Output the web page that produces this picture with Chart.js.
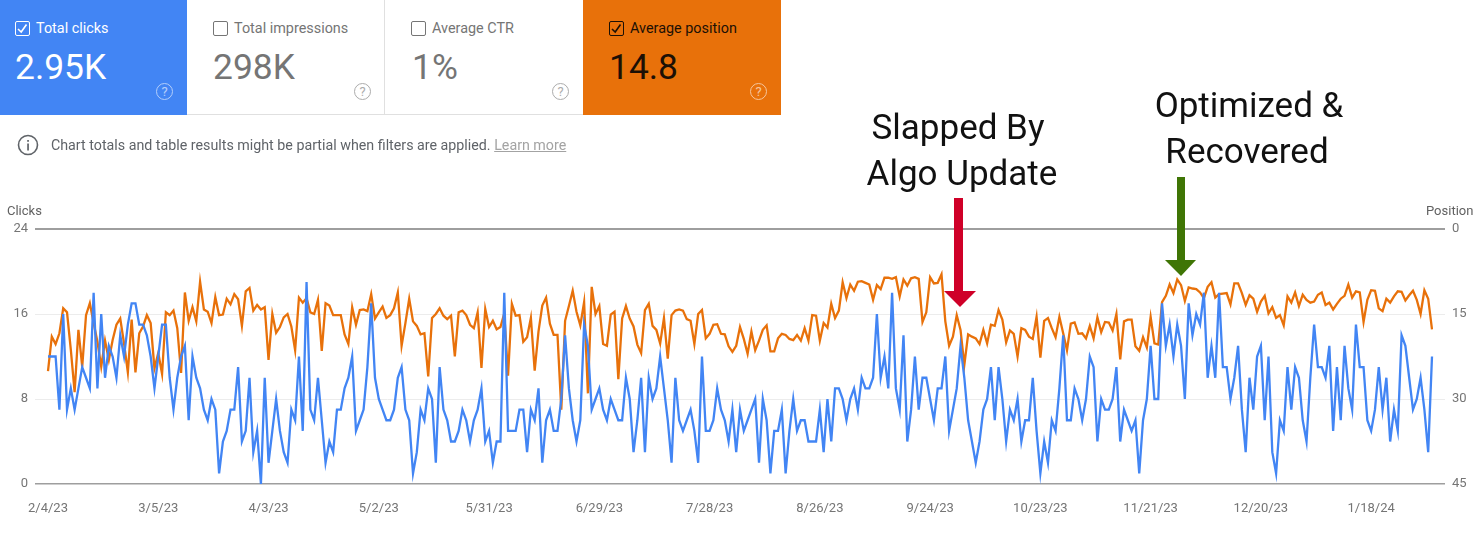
<!DOCTYPE html>
<html lang="en">
<head>
  <meta charset="UTF-8">
  <title>Search performance</title>
  <style>
    html, body { margin: 0; padding: 0; background: #fff; }
    body { width: 1483px; height: 543px; position: relative; overflow: hidden; font-family: Roboto, Arial, sans-serif; }
    #chart { position: absolute; left: 0; top: 0; }
    .card { position: absolute; top: 0; height: 114px; box-sizing: content-box; }
    .card .box { position: absolute; left: 15px; top: 21px; width: 12.5px; height: 12.5px; border: 1.5px solid; border-radius: 2px; }
    .card .box svg { position: absolute; left: 0; top: 0; }
    .card .name { position: absolute; left: 36px; top: 20px; font-size: 14.4px; line-height: 17px; white-space: nowrap; }
    .card .value { position: absolute; left: 15px; top: 45px; font-size: 35.4px; line-height: 44px; white-space: nowrap; }
    .card .help { position: absolute; left: 156px; top: 83px; width: 15px; height: 15px; border: 1.5px solid; border-radius: 50%; font-size: 13px; line-height: 15px; text-align: center; opacity: .6; }
    .white { background: #fff; color: #757575; border-bottom: 1px solid #e0e0e0; }
    .axis-name { position: absolute; top: 203px; font-size: 13px; line-height: 15px; color: #616161; }
    .info { position: absolute; left: 51px; top: 136px; font-size: 14.25px; line-height: 18px; color: #5f6368; white-space: nowrap; }
    .info a { color: #a3a3a3; text-decoration: underline; }
    .note { position: absolute; font-size: 35px; line-height: 46px; color: #111; text-align: center; white-space: nowrap; }
    #arrows { position: absolute; left: 0; top: 0; }
  </style>
</head>
<body>
  <canvas id="chart" width="1483" height="543"></canvas>

  <div class="card" style="left:0;width:187px;height:115px;background:#4285f4;color:#fff">
    <div class="box" style="border-color:#fff"><svg width="13" height="13"><path d="M2 7l3.2 3l5.3-7.5" fill="none" stroke="#fff" stroke-width="1.6"/></svg></div>
    <div class="name">Total clicks</div><div class="value">2.95K</div><div class="help">?</div>
  </div>
  <div class="card white" style="left:187px;width:197px;border-right:1px solid #e0e0e0">
    <div class="box" style="left:26px;border-color:#757575"></div>
    <div class="name" style="left:47px">Total impressions</div><div class="value" style="left:26px">298K</div><div class="help" style="left:167px">?</div>
  </div>
  <div class="card white" style="left:385px;width:198px">
    <div class="box" style="left:26px;border-color:#757575"></div>
    <div class="name" style="left:47px">Average CTR</div><div class="value" style="left:27px">1%</div><div class="help" style="left:167px">?</div>
  </div>
  <div class="card" style="left:583px;width:198px;height:115px;background:#e8710a;color:#1c1005">
    <div class="box" style="left:26px;border-color:#1c1005"><svg width="13" height="13"><path d="M2 7l3.2 3l5.3-7.5" fill="none" stroke="#1c1005" stroke-width="1.6"/></svg></div>
    <div class="name" style="left:47px">Average position</div><div class="value" style="left:26px">14.8</div><div class="help" style="left:167px;color:#fff">?</div>
  </div>

  <svg style="position:absolute;left:17px;top:134px" width="22" height="22">
    <circle cx="11" cy="11" r="9.5" fill="none" stroke="#5f6368" stroke-width="1.6"/>
    <rect x="10.2" y="9.5" width="1.7" height="7" fill="#5f6368"/><rect x="10.2" y="6" width="1.7" height="1.8" fill="#5f6368"/>
  </svg>
  <div class="info">Chart totals and table results might be partial when filters are applied. <a>Learn more</a></div>

  <div class="axis-name" style="left:7px">Clicks</div>
  <div class="axis-name" style="left:1426px">Position</div>

  <svg id="arrows" width="1483" height="543">
    <path d="M954 198h9v93h13l-16 16l-16-16h10z" fill="#cf0028"/>
    <path d="M1177 177h8v83h11l-15 16l-16-16h12z" fill="#3f7505"/>
  </svg>
  <div class="note" style="left:858px;width:200px;top:105px">Slapped By</div>
  <div class="note" style="left:862px;width:200px;top:151px">Algo Update</div>
  <div class="note" style="left:1149px;width:200px;top:83px">Optimized &amp;</div>
  <div class="note" style="left:1147px;width:200px;top:129px">Recovered</div>

  <script src="https://cdn.jsdelivr.net/npm/chart.js"></script>
  <script>
    const tickLabels = ["2/4/23", "3/5/23", "4/3/23", "5/2/23", "5/31/23", "6/29/23", "7/28/23", "8/26/23", "9/24/23", "10/23/23", "11/21/23", "12/20/23", "1/18/24"];
    const tickEvery = 29;

    // one value per day
    const clicks = [
      12,12,12,7,16,7,9,7,9,11, 10,9,18,9,16,10,13,12,10,14, 12,15,17,17,15,15,14,12,9,12,
      15,15,10,7,10,12,13,6,12,10, 9,7,6,8,7,1,4,5,7,7, 11,4,5,10,3,5,0,10,2,5,
      8,5,3,2,7,6,12,5,19,7, 6,10,6,2,4,3,7,7,9,10, 12,5,6,7,11,17,10,8,7,6,
      6,7,10,11,7,6,1,3,7,6, 9,8,2,11,7,6,4,4,5,7, 6,4,6,7,9,4,5,2,4,4,
      18,5,5,5,7,7,3,7,6,9, 2,6,7,5,5,8,14,9,6,4, 6,15,13,7,8,9,7,6,8,7,
      6,6,10,8,3,6,10,3,10,8, 9,12,9,6,2,10,6,5,6,7, 5,2,12,5,5,6,9,7,6,4,
      7,3,7,5,6,7,8,2,8,6, 1,5,5,7,1,5,8,5,6,6, 4,4,4,7,3,8,4,9,9,8,
      6,8,9,7,10,9,9,10,16,10, 12,9,18,9,7,14,4,7,12,7, 10,10,8,6,9,9,12,5,7,9,
      13,10,6,4,2,4,7,8,11,6, 11,8,4,7,6,8,4,6,6,10, 5,1,4,2,6,5,9,14,6,6,
      9,8,6,8,12,11,4,8,7,7, 8,11,4,7,6,5,6,1,6,8, 13,8,8,17,13,15,12,15,13,8,
      17,14,16,15,18,10,13,10,18,11, 11,8,10,13,7,3,10,7,12,13, 6,12,3,1,6,5,11,7,11,10,
      6,4,10,15,11,11,10,13,5,11, 6,13,9,7,15,11,11,6,5,7, 11,7,10,4,7,5,14,13,10,7,
      8,10,7,3,12
    ];
    const position = [
      25.1,19,20.3,18.4,14,14.7,21.3,28.8,17.8,24.3, 15.2,13.1,16.6,19.9,24.3,19.7,23.1,19.6,16.9,15.8,
      20.2,25.3,16,25.3,18.4,17.2,15.2,16.6,24.6,21.9, 25.6,14.7,15.2,14.4,17.5,25.4,11.2,16.2,13.8,16.3,
      9.3,14.2,14.6,16.6,12,15.2,15.1,12.3,13.3,11.5, 12.4,17.1,11,10.4,14.4,13.4,14.2,13.8,23.1,15,
      18.3,17.3,15.6,15,17.2,21.4,12.1,13,12.2,14.7, 15,12.5,21.5,13.1,13.5,15.2,15.2,15.2,18.6,20.3,
      13.8,16.9,14.3,14.2,14.5,11.5,15.8,14.7,13.7,15.7, 15.2,14,11.2,20.6,16.6,12.3,16.3,17.1,18.6,18.4,
      26,15.7,15,14,15.3,15.9,15.3,22.5,14.7,14.4, 15.2,16.9,17.5,14.7,24.5,14.1,17.3,16.2,17.7,17.3,
      14.9,25.9,13.2,15.3,15.2,19.9,19.1,15.7,25,18.1, 13.5,12.1,16.7,18.7,18.7,31.9,16.2,13.6,10.9,14.6,
      17,12.9,29,10.2,15,13.6,20.3,20.6,15.1,14.6, 26.5,15.8,13.6,15.8,17.2,20.4,21.9,14.3,13.2,17.1,
      17.8,20.2,15.7,22.9,15.2,14.4,14.2,14.4,15.9,16.2, 20.3,15,14.3,19.3,18.5,16.9,16.8,18.5,18.6,20.7,
      21.7,20.6,17.3,19.4,22,18.1,21.4,19.7,17.8,17, 21.6,21.6,19.3,18.5,18.7,19.4,19.6,18.7,19.7,17.5,
      19.7,15.2,15.3,19.7,16.6,17.4,13.2,15.7,14.4,9.4, 12.2,9.8,10.9,9.3,9.2,9.5,9.8,12.5,9.9,10.6,
      8.6,8.6,8.8,8.5,11.9,8.9,10,8.7,8.5,8.8, 16.4,14.7,8.5,9.6,9.5,8,16.3,20.6,19,15.2,
      17.8,24,18.6,19,19.3,20.3,17.8,20.2,16.9,17.1, 14.3,16,20,17.9,18.5,22.5,17.5,17.8,19,19.4,
      15.5,22.7,16.2,15.7,17.5,19.1,15.5,18.4,21.4,16.7, 16.5,18.5,18.4,19.3,17.1,19.3,15.6,18.2,16.4,16.5,
      17.9,15,23,16.3,16,16,20.7,21.5,19.1,20.9, 15.5,20.2,20.4,12.9,11.8,9.8,11.3,8.9,9.9,12.7,
      10.3,10.5,10.6,11.2,12.2,10.2,9.4,12.1,11.5,11.4, 11.3,13.3,9.6,9.6,11.3,13.4,11.7,12.3,14.6,12.8,
      11.8,14.9,13.8,15.7,15.2,17,11.9,13,11.2,13.6, 11.6,12.5,13,12.8,11.6,11.2,13.4,13,14.2,13.2,
      12.3,11.8,9.8,12.1,11,11.2,16.4,12.5,10.8,10.9, 14,14.5,12.3,13,11.9,11,11.1,12.6,11.7,10.9,
      12.5,15,10.8,12.3,17.7
    ];

    const FONT = { family: "Roboto, Arial, sans-serif", size: 13 };
    const TICK_COLOR = "#757575";

    new Chart(document.getElementById("chart"), {
      type: "line",
      data: {
        datasets: [
          { label: "Clicks", yAxisID: "y", data: clicks.map((v, i) => ({ x: i, y: v })), borderColor: "#4285f4", borderWidth: 2.3, pointRadius: 0, tension: 0, order: 0 },
          { label: "Position", yAxisID: "y2", data: position.map((v, i) => ({ x: i, y: v })), borderColor: "#e8710a", borderWidth: 2.3, pointRadius: 0, tension: 0, order: 1 }
        ]
      },
      options: {
        responsive: false,
        animation: false,
        devicePixelRatio: 1,
        layout: { padding: { top: 229, left: 0, right: 0, bottom: 0 } },
        plugins: { legend: { display: false }, tooltip: { enabled: false } },
        scales: {
          x: {
            type: "linear",
            min: -3.42,
            max: 367.42,
            grid: { display: false },
            border: { display: false },
            afterBuildTicks: (axis) => { axis.ticks = tickLabels.map((l, i) => ({ value: i * tickEvery })); },
            afterFit: (axis) => { axis.height = 59; },
            ticks: {
              autoSkip: false,
              maxRotation: 0,
              padding: 9,
              color: TICK_COLOR,
              font: FONT,
              callback: (v) => tickLabels[v / tickEvery]
            }
          },
          y: {
            position: "left",
            min: 0,
            max: 24,
            border: { display: false },
            afterFit: (axis) => { axis.width = 35; },
            grid: {
              drawTicks: false,
              color: (c) => (c.tick.value === 0 || c.tick.value === 24) ? "#9e9e9e" : "#ececec",
              lineWidth: (c) => c.tick.value === 24 ? 2 : (c.tick.value === 0 ? 1.5 : 1)
            },
            ticks: { stepSize: 8, padding: 7, color: TICK_COLOR, font: FONT }
          },
          y2: {
            position: "right",
            reverse: true,
            min: 0,
            max: 45,
            border: { display: false },
            afterFit: (axis) => { axis.width = 38; },
            grid: { display: false, drawTicks: false },
            ticks: { stepSize: 15, padding: 7, color: TICK_COLOR, font: FONT }
          }
        }
      }
    });
  </script>
</body>
</html>
